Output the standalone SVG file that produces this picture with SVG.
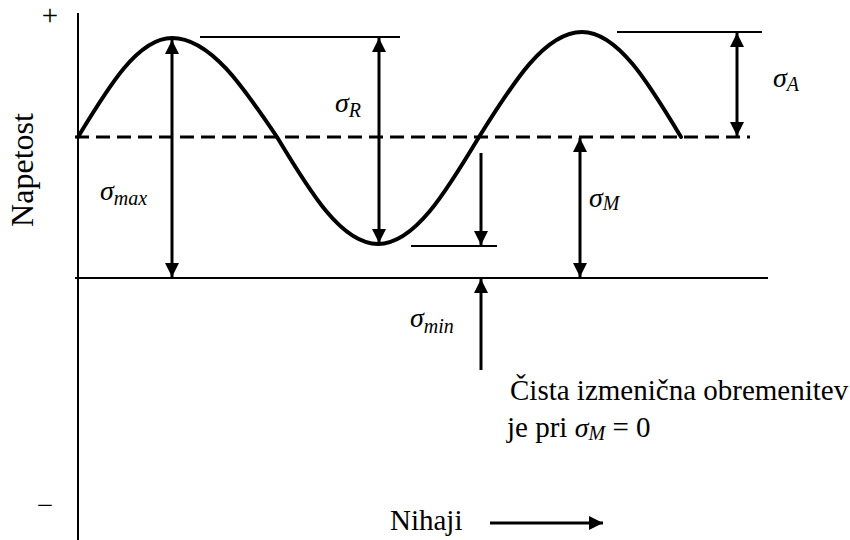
<svg xmlns="http://www.w3.org/2000/svg" width="850" height="540" viewBox="0 0 850 540">
<style>
  .lbl { font-size: 29px; }
  .sig { font-size: 28px; font-style: italic; }
  .sub { font-size: 20px; font-style: italic; }
  .axis { stroke: #000; stroke-width: 2; fill: none; }
  .ref { stroke: #000; stroke-width: 2; fill: none; }
  .arr { stroke: #000; stroke-width: 3; fill: none; }
  .dash { stroke: #000; stroke-width: 3; stroke-dasharray: 14 7; fill: none; }
  .curve { stroke: #000; stroke-width: 4; fill: none; stroke-linejoin: round; stroke-linecap: round; }
</style>
<defs>
  <marker id="ah" viewBox="0 0 14 14" refX="14" refY="7" markerWidth="14" markerHeight="14" markerUnits="userSpaceOnUse" orient="auto-start-reverse">
    <path d="M0,0 L14,7 L0,14 Z" fill="#000"/>
  </marker>
</defs>
<rect width="850" height="540" fill="#fff"/>

<g id="axes">
  <line class="axis" x1="78" y1="13" x2="78" y2="540"/>
  <line class="axis" x1="75" y1="278" x2="768" y2="278"/>
  <line class="dash" x1="75" y1="137" x2="750" y2="137"/>
</g>

<g id="curve">
  <path class="curve" d="M78,137 C108.7,86.3 138,38 172,38 C210,38 242.8,86.3 277,137 C309.9,191.8 341.4,244 378,244 C414.6,244 446.1,191.8 479,137 C512.6,83.2 544.7,32 582,32 C617.8,32 648.7,83.2 681,137"/>
</g>

<g id="reference-lines">
  <line class="ref" x1="200" y1="37" x2="400" y2="37"/>
  <line class="ref" x1="411" y1="246" x2="497" y2="246"/>
  <line class="ref" x1="617" y1="32" x2="762" y2="32"/>
</g>

<g id="connectors">
  <line class="arr" x1="172" y1="40" x2="172" y2="277" marker-start="url(#ah)" marker-end="url(#ah)"/>
  <line class="arr" x1="379" y1="38" x2="379" y2="243" marker-start="url(#ah)" marker-end="url(#ah)"/>
  <line class="arr" x1="481" y1="153" x2="481" y2="245" marker-end="url(#ah)"/>
  <line class="arr" x1="481" y1="370" x2="481" y2="279" marker-end="url(#ah)"/>
  <line class="arr" x1="580" y1="138" x2="580" y2="277" marker-start="url(#ah)" marker-end="url(#ah)"/>
  <line class="arr" x1="737" y1="33" x2="737" y2="136" marker-start="url(#ah)" marker-end="url(#ah)"/>
  <line class="arr" x1="490" y1="523" x2="603" y2="523" marker-end="url(#ah)"/>
</g>

<g id="labels" font-family="'Liberation Serif', 'Times New Roman', serif" fill="#000">
  <text class="lbl" x="50" y="25" text-anchor="middle">+</text>
  <text class="lbl" x="45" y="515" text-anchor="middle">−</text>
  <text text-anchor="middle" transform="translate(33,170) rotate(-90)" font-size="32">Napetost</text>
  <text class="lbl" x="390" y="530">Nihaji</text>
  <text class="sig" x="100" y="200">σ<tspan class="sub" dy="5">max</tspan></text>
  <text class="sig" x="335" y="112">σ<tspan class="sub" dy="5">R</tspan></text>
  <text class="sig" x="773" y="87">σ<tspan class="sub" dy="4">A</tspan></text>
  <text class="sig" x="589" y="207">σ<tspan class="sub" dy="3">M</tspan></text>
  <text class="sig" x="410" y="327">σ<tspan class="sub" dy="6">min</tspan></text>
  <text class="lbl" x="510" y="400">Čista izmenična obremenitev</text>
  <text class="lbl" x="507" y="437">je pri <tspan class="sig">σ</tspan><tspan class="sub" dy="3">M</tspan><tspan dy="-3"> = 0</tspan></text>
</g>
</svg>
